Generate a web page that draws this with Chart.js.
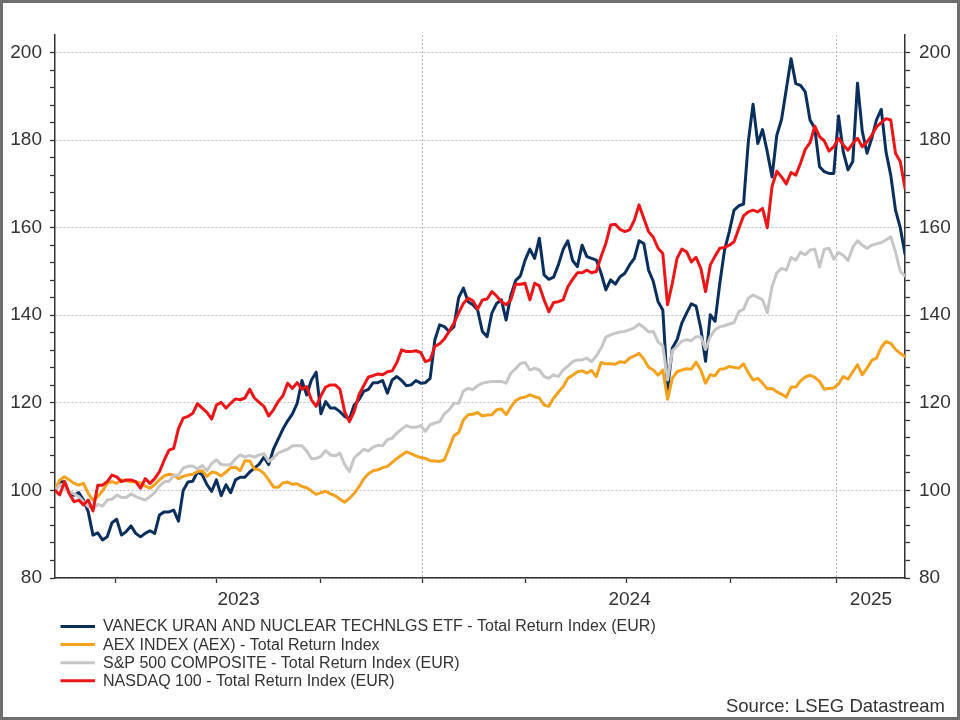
<!DOCTYPE html>
<html>
<head>
<meta charset="utf-8">
<script src="https://cdn.jsdelivr.net/npm/chart.js@4.4.1/dist/chart.umd.min.js"></script>
<style>
  html, body { margin: 0; padding: 0; background: #ffffff; }
  #c { display: block; }
</style>
</head>
<body>
<canvas id="c" width="960" height="720"></canvas>
<script>
// ---- Data (rebased index, EUR) ----
const seriesNames = [
  'VANECK URAN AND NUCLEAR TECHNLGS ETF - Total Return Index (EUR)',
  'AEX INDEX (AEX) - Total Return Index',
  'S&P 500 COMPOSITE - Total Return Index (EUR)',
  'NASDAQ 100 - Total Return Index (EUR)'
];
const seriesColors = ['#0b2f5d', '#f4a11d', '#c6c6c6', '#ee1519'];

// business-day index of each sample (every 3rd trading day, mid-Feb 2023 .. early Mar 2025)
const tradingDays = Array.from({ length: 180 }, (_, i) => i * 3);

const vaneck = [100,102,102,99.3,98.9,99.5,97.8,95.1,89.8,90.3,
  88.7,89.4,92.6,93.4,89.8,90.6,91.9,90.2,89.4,90.2,
  90.8,90.2,94.4,95.1,95.1,95.5,93,100,101.9,102.1,
  104.2,103.6,101.3,99.8,102.4,98.8,101.3,99.5,102.4,103,
  103,104.2,105.1,106,107.6,105.9,109.4,111.7,114,115.9,
  117.5,119.9,125.1,121.8,125.2,127,117.5,120.3,118.8,118.8,
  118,116.9,116.3,119.5,120.7,122.6,123.1,124.6,124.6,125.1,
  122.2,125.2,126,125.1,123.9,124.1,125.1,124.5,124.6,125.6,
  134.4,137.8,137.4,136.3,137.4,144,146.2,143.1,142.4,141.2,
  136.3,135.1,140.5,142.7,143.5,138.9,144.6,147.9,149,152.6,
  155.1,153,157.6,149.2,148.2,148.7,151.5,155,157,152.5,
  151.1,156,153.4,153,152.6,149.6,145.8,148.1,147.1,148.8,
  149.6,151.5,153,157,156.4,150.3,147.7,143.1,141.2,123,
  132.5,134.4,138.2,140.5,142.6,142.1,137,129.5,140.1,138.6,
  147.3,154.9,159.1,164,165,165.4,179.6,188.2,179.2,182.4,
  177.3,171.6,181.1,184.7,191.6,198.6,192.9,192.5,191,184.6,
  182.7,173.9,172.8,172.4,172.4,185.5,177.3,173.2,175.1,193,
  182,177,180.4,184.6,187,177.3,172,164,160,154];

const aex = [100,102.4,103.1,102.4,101.6,101.2,101.6,99.3,97.8,98.6,
  99.9,101.6,102,101.6,102.4,102.2,102,102,101.7,101,
  100.5,101.4,102.4,103.3,103.7,103.5,102.7,103.2,103.5,103.7,
  104.3,104.5,103.2,104.2,104,103.3,104.2,105.2,105.3,104.5,
  106.8,106.7,104.9,104.7,103.9,102.4,100.8,100.7,101.7,101.9,
  101.4,101.5,100.9,100.6,99.9,99.1,99.5,99.8,99.2,98.8,
  98,97.3,98.2,99.3,100.8,102.6,103.8,104.5,104.7,105.2,
  105.5,106.4,107.3,108.1,108.8,108.4,107.9,107.5,107.3,106.8,
  106.7,106.6,107,109.7,112.5,113.2,116.1,117.3,117.4,117.8,
  117,117.2,117.3,118.4,118.6,117.3,119,120.5,121.1,121.3,
  121.8,121.4,121.1,119.5,119.2,121.1,122.4,123.7,125.6,126.3,
  127.1,127.3,126.8,127.4,126,129.2,128.9,128.9,128.8,129.4,
  129.2,130.2,130.7,131.3,130,128.1,127.5,126.3,127.5,120.8,
  125.6,127.1,127.5,127.8,127.7,129.3,127.5,124.5,126.4,126.2,
  127.7,127.8,128.3,128.1,127.9,128.9,126.9,125.2,125.6,124.5,
  123.2,123.3,122.5,122,121.3,123.6,123.6,125,125.9,126.3,
  125.8,124.9,123.1,123.3,123.4,124.3,126,125.4,127.1,128.7,
  126.4,127.9,129.7,130.2,132.7,134,133.6,132.2,131.3,130.6];

const sp500 = [100,101.2,100.7,99.7,99.2,98.6,97.4,96.3,95.8,96.8,
  96.4,97.8,98,98.9,98.4,98.4,99.2,98.6,98.2,97.8,
  98.6,99.5,101,102,102.1,103.4,103.5,105.1,105.5,105.6,
  104.9,105.7,104.5,106.1,107,105.9,105.8,105.9,107.2,108.1,
  107.6,108,107.6,108.1,108.4,106.6,107.4,108.5,109,109.4,
  110.2,110.2,110.2,109,107.3,107.3,107.8,109.1,108.1,107.9,
  108.5,105.9,104.3,107.4,108.4,109.4,109,109.9,110.3,110.2,
  111.6,111.9,113.1,114,114.8,114.4,114.4,114.8,113.5,115,
  115.4,115.7,117.5,118.4,119.9,119.9,122.7,123.3,123,123.9,
  124.5,124.7,124.9,124.9,124.9,124.5,126.8,127.8,129,129.2,
  127.5,127.9,127.5,126,125.6,126.4,126,127.5,128.4,129.4,
  129.8,129.8,130.2,129.4,130.7,132.5,135,135.5,135.9,136.2,
  136.3,136.7,137.1,138,137.2,136.2,136.3,133.9,133,125.2,
  131.9,132.9,134.1,134.4,134.2,135.1,135.1,132.2,135.1,136.7,
  137.4,137.6,138,138.3,140.8,141.4,143.9,144.6,144.1,143.5,
  140.6,146.5,149.7,150.7,150.3,153.2,152.6,154.4,153.8,154.9,
  155.1,151,155.1,155.3,152.8,154.3,153.7,152.5,155.5,157,
  156,155.3,156,156.3,156.6,157.2,157.9,154.5,150,149];

const nasdaq = [100,99,102,99.3,97.4,97.8,96.7,97.8,95.3,101.2,
  101.2,102,103.5,103.1,102,102.4,102.4,102,100.5,102.7,
  101.6,102.7,104.3,106.9,109.2,109.6,114.1,116.5,116.9,117.6,
  119.8,118.8,117.8,116.3,119.5,120.1,118.8,119.9,120.9,120.7,
  121.1,123.1,121.1,120.1,119.2,117,118.4,120.3,121.6,124.5,
  123.3,124.6,123.1,123.7,120.7,119.2,121.6,123.6,124.1,124.1,
  123.1,118,115.7,118,121.8,123.9,125.9,126.2,126.6,126.4,
  127.1,127.3,129.2,132.1,131.7,131.7,131.9,131.5,129.4,129.8,
  132.9,133.5,134.6,136.3,138.2,140.5,142.7,143.9,143.3,141.4,
  143.5,143.7,145.4,144.4,143.1,142.4,143.5,147.1,147.1,147.3,
  143.5,147.3,146.7,143.5,140.8,142.9,143.1,143.5,146.5,148.2,
  149.7,149.7,150.3,149.7,150,153.4,156.4,160.6,160.8,159.6,
  159.1,159.5,161.7,165.2,162.1,159.1,157.8,155.3,154.1,142.4,
  147.3,153,155.1,154.5,152.2,153.2,150.7,145.4,151.5,153.5,
  155.3,155.5,156,156.8,159.8,162.7,163.6,164,163.6,164.4,
  160,169.4,172.9,171.6,170,172.6,172,174.7,177.9,179.4,
  183.2,180.8,179.8,177.5,178.5,180.4,178.9,177.7,179.2,180.4,
  178.5,179.6,181.1,183,184,184.9,184.6,177,175.1,169];

// ---- Axis tick definitions (business-day index) ----
const xMin = 0, xMax = 537;
const quarterTicks = [38, 102, 168, 232, 297, 361, 427, 494];
const yearStartTicks = [232, 494];
const yearLabels = ['2023', '2024', '2025'];
const yearLabelDays = [116, 363, 515.5];
const yMin = 80, yMax = 204, yTop = 200;
const yLabelStep = 20, yMinorStep = 4;
const sourceText = 'Source: LSEG Datastream';

const FONT = '"Liberation Sans", Arial, Helvetica, sans-serif';
const TEXT = '#333333';
const AXIS = '#333333';
const GRID = '#bdbdbd';

const allSeries = [vaneck, aex, sp500, nasdaq];
const drawOrder = [3, 2, 1, 0]; // NASDAQ on top, VanEck at bottom

const datasets = allSeries.map((vals, k) => ({
  label: seriesNames[k],
  data: tradingDays.map((d, i) => ({ x: d, y: vals[i] })),
  borderColor: seriesColors[k],
  backgroundColor: seriesColors[k],
  borderWidth: 3,
  pointRadius: 0,
  tension: 0,
  borderJoinStyle: 'round',
  borderCapStyle: 'round',
  fill: false,
  order: drawOrder[k],
  yAxisID: 'y'
}));

function yTicks() {
  const t = [];
  for (let v = yMin; v <= yTop; v += yMinorStep) t.push({ value: v });
  return t;
}

const extrasPlugin = {
  id: 'extras',
  afterDraw(chart) {
    const ctx = chart.ctx;
    ctx.save();
    // legend
    ctx.font = '16px ' + FONT;
    ctx.textBaseline = 'middle';
    ctx.textAlign = 'left';
    chart.data.datasets.forEach((ds, k) => {
      const y = 626.5 + k * 18.1;
      ctx.strokeStyle = ds.borderColor;
      ctx.lineWidth = 3;
      ctx.beginPath();
      ctx.moveTo(60.5, y);
      ctx.lineTo(95, y);
      ctx.stroke();
      ctx.fillStyle = TEXT;
      ctx.fillText(ds.label, 103, y + 0.5);
    });
    // source
    ctx.font = '18.5px ' + FONT;
    ctx.textAlign = 'right';
    ctx.fillStyle = TEXT;
    ctx.fillText(sourceText, 945, 707);
    // frame
    ctx.strokeStyle = '#6f6f6f';
    ctx.lineWidth = 3;
    ctx.strokeRect(1.5, 1.5, 957, 717);
    ctx.restore();
  }
};

new Chart(document.getElementById('c'), {
  type: 'line',
  data: { datasets },
  plugins: [extrasPlugin],
  options: {
    responsive: false,
    animation: false,
    devicePixelRatio: 1,
    layout: { padding: { top: 35, left: 0, right: 0, bottom: 0 } },
    plugins: { legend: { display: false }, tooltip: { enabled: false } },
    scales: {
      x: {
        type: 'linear',
        min: xMin, max: xMax,
        afterBuildTicks: (s) => {
          s.ticks = quarterTicks.concat(yearLabelDays)
            .sort((a, b) => a - b)
            .map(v => ({ value: v }));
        },
        afterFit: (s) => { s.height = 142; },
        ticks: {
          autoSkip: false, maxRotation: 0, minRotation: 0, padding: 5,
          font: { family: FONT, size: 19 }, color: TEXT,
          callback: (v) => { const k = yearLabelDays.indexOf(v); return k >= 0 ? yearLabels[k] : ''; }
        },
        grid: {
          color: (c) => (c.tick && yearStartTicks.includes(c.tick.value)) ? GRID : 'rgba(0,0,0,0)',
          tickColor: (c) => (c.tick && yearLabelDays.includes(c.tick.value)) ? 'rgba(0,0,0,0)' : AXIS,
          tickLength: 5, lineWidth: 1, tickWidth: 1.3
        },
        border: { display: true, color: AXIS, width: 1.5, dash: [2, 2] }
      },
      y: {
        position: 'left',
        min: yMin, max: yMax,
        afterBuildTicks: (s) => { s.ticks = yTicks(); },
        afterFit: (s) => { s.width = 55; },
        ticks: {
          autoSkip: false, padding: 8,
          font: { family: FONT, size: 19 }, color: TEXT,
          callback: (v) => (v % yLabelStep === 0 ? String(v) : '')
        },
        grid: {
          color: (c) => (c.tick && c.tick.value % yLabelStep === 0) ? GRID : 'rgba(0,0,0,0)',
          tickColor: AXIS, tickLength: 5, lineWidth: 1, tickWidth: 1.3
        },
        border: { display: true, color: AXIS, width: 1.5, dash: [2, 2] }
      },
      y2: {
        position: 'right',
        min: yMin, max: yMax,
        afterBuildTicks: (s) => { s.ticks = yTicks(); },
        afterFit: (s) => { s.width = 55; },
        ticks: {
          autoSkip: false, padding: 9,
          font: { family: FONT, size: 19 }, color: TEXT,
          callback: (v) => (v % yLabelStep === 0 ? String(v) : '')
        },
        grid: { drawOnChartArea: false, tickColor: AXIS, tickLength: 5, tickWidth: 1.3 },
        border: { display: true, color: AXIS, width: 1.5 }
      }
    }
  }
});
</script>
</body>
</html>
